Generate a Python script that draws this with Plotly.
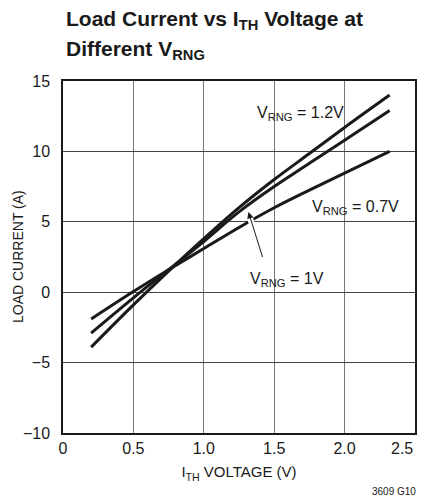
import plotly.graph_objects as go

x_vals = [0.2, 0.5, 0.75, 1.0, 1.25, 1.5, 1.75, 2.0, 2.32]
i_07 = [-1.9, 0.05, 1.6, 3.1, 4.6, 6.0, 7.25, 8.45, 10.0]
i_10 = [-2.9, -0.4, 1.6, 3.6, 5.7, 7.5, 9.15, 10.8, 12.9]
i_12 = [-3.9, -0.9, 1.5, 3.8, 6.0, 8.0, 9.85, 11.7, 14.0]

x_ticks = [0, 0.5, 1.0, 1.5, 2.0]
x_tick_text = ["0", "0.5", "1.0", "1.5", "2.0"]
x_last_tick = 2.5
x_last_text = "2.5"
y_ticks = [-10, -5, 0, 5, 10, 15]

FONT = "Liberation Sans, Arial, sans-serif"
INK = "#1a1a1a"
LINE = dict(color=INK, width=3)

# page body has an 8px default margin: size the figure so it fits the 428x499 window
OFF = 8
W, H = 428 - OFF, 499 - OFF
# desired plot area in window pixels: x 63..415, y 81..433
L, R, T, B = 63 - OFF, 428 - 415, 81 - OFF, 499 - 433
PW, PH = W - L - R, H - T - B


def px(win_x):
    return (win_x - OFF - L) / PW


def py(win_y):
    return (H - B - (win_y - OFF)) / PH


fig = go.Figure()
for name, ys in [("0.7V", i_07), ("1V", i_10), ("1.2V", i_12)]:
    fig.add_trace(go.Scatter(x=x_vals, y=ys, mode="lines", line=LINE,
                             line_shape="spline", name=name, showlegend=False))

fig.update_layout(
    width=W, height=H,
    margin=dict(l=L, r=R, t=T, b=B),
    paper_bgcolor="white", plot_bgcolor="white",
    font=dict(family=FONT, color=INK, size=15),
    xaxis=dict(range=[0, 2.5], tickvals=x_ticks, ticktext=x_tick_text,
               showgrid=True, gridcolor="#777", gridwidth=1.2,
               showline=True, linecolor=INK, linewidth=1.5, mirror=True,
               zeroline=False, ticks="", ticklen=0, automargin=False,
               tickfont=dict(size=16),
               title=dict(text="I<sub>TH</sub> VOLTAGE (V)", font=dict(size=15), standoff=11)),
    yaxis=dict(range=[-10, 15], tickvals=y_ticks,
               showgrid=True, gridcolor="#444", gridwidth=1.2,
               showline=True, linecolor=INK, linewidth=1.5, mirror=True,
               zeroline=False, ticks="", ticklen=0, automargin=False,
               ticklabelstandoff=8,
               tickfont=dict(size=16)),
)

# last x tick label, right-aligned to the frame like the reference
fig.add_annotation(x=x_last_tick, y=py(448), xref="x", yref="paper", xanchor="right", yanchor="middle",
                   showarrow=False, text=x_last_text, font=dict(size=16))

# title lines
fig.add_annotation(x=px(64), y=py(20), xref="paper", yref="paper", xanchor="left", yanchor="middle",
                   showarrow=False, text="<b>Load Current vs I<sub>TH</sub> Voltage at</b>",
                   font=dict(size=21, color=INK))
fig.add_annotation(x=px(64), y=py(50), xref="paper", yref="paper", xanchor="left", yanchor="middle",
                   showarrow=False, text="<b>Different V<sub>RNG</sub></b>",
                   font=dict(size=21, color=INK))

# y axis title
fig.add_annotation(x=px(18), y=py(257), xref="paper", yref="paper", xanchor="center", yanchor="middle",
                   showarrow=False, text="LOAD CURRENT (A)", textangle=-90, font=dict(size=14))

# white gap where the arrow crosses the 0.7V line
fig.add_annotation(x=1.317, y=5.6, ax=1.42, ay=2.5, xref="x", yref="y", axref="x", ayref="y",
                   text="", showarrow=True, arrowhead=0, arrowwidth=6, arrowcolor="white",
                   startstandoff=0, standoff=4)
fig.add_annotation(x=1.317, y=5.7, ax=1.42, ay=2.4, xref="x", yref="y", axref="x", ayref="y",
                   text="", showarrow=True, arrowhead=2, arrowsize=1.3, arrowwidth=1,
                   arrowcolor=INK)

fig.add_annotation(x=1.69, y=12.7, xref="x", yref="y", showarrow=False,
                   text="V<sub>RNG</sub> = 1.2V", font=dict(size=16))
fig.add_annotation(x=2.08, y=6.0, xref="x", yref="y", showarrow=False,
                   text="V<sub>RNG</sub> = 0.7V", font=dict(size=16))
fig.add_annotation(x=1.59, y=0.9, xref="x", yref="y", showarrow=False,
                   text="V<sub>RNG</sub> = 1V", font=dict(size=16))
fig.add_annotation(x=px(394), y=py(491), xref="paper", yref="paper",
                   xanchor="center", yanchor="middle", showarrow=False,
                   text="3609 G10", font=dict(size=10))

fig.write_html("out.html")
